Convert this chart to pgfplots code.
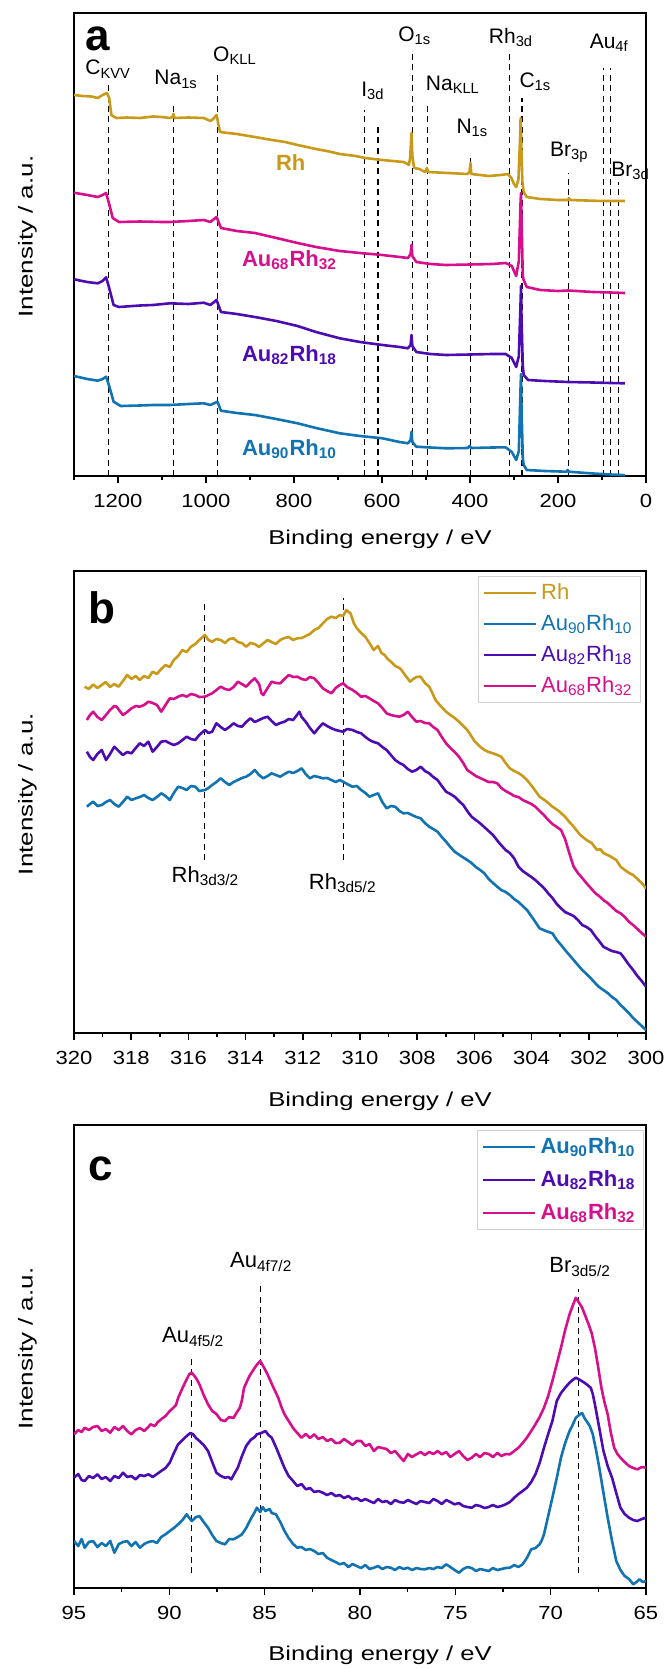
\documentclass[border=0pt]{standalone}
\usepackage{fontspec}
\setmainfont{Liberation Sans}
\usepackage{graphicx}
\usepackage{pgfplots}
\pgfplotsset{compat=1.18}
\definecolor{cgold}{RGB}{201,154,25}
\definecolor{cblue}{RGB}{17,115,178}
\definecolor{cpurp}{RGB}{76,12,178}
\definecolor{cpink}{RGB}{214,16,140}
\newcommand{\sub}[1]{\textsubscript{#1}}
\pgfplotsset{
  panel/.style={
    scale only axis, width=286pt, clip mode=individual,
    x dir=reverse, ymin=0,
    axis line style={line width=0.8pt},
    ytick=\empty, xtick pos=left, tick align=outside,
    major tick length=3.5pt, minor tick length=2pt,
    every tick/.style={black, line width=0.8pt},
    tick label style={font=\fontsize{9.5}{11}\selectfont},
    /pgf/number format/assume math mode=true,
    /pgf/number format/1000 sep={},
    xticklabel={\scalebox{1.16}[1]{\pgfmathprintnumber{\tick}}},
    xticklabel style={yshift=-2pt},
    xlabel={\scalebox{1.28}[1]{Binding energy / eV}},
    ylabel={\scalebox{1.3}[1]{Intensity / a.u.}},
    label style={font=\fontsize{12}{14}\selectfont},
    every axis y label/.style={at={(axis description cs:-0.0813,0.517)}, anchor=center, rotate=90},
    legend cell align=left,
    legend image code/.code={\draw[#1, line width=1.3pt] (0pt,0pt) -- (26pt,0pt);},
  },
  refl/.style={forget plot, black, line width=0.6pt, dash pattern=on 3pt off 2.2pt},
  sp/.style={line width=1.3pt, line join=round},
}
\tikzset{
  ann/.style={anchor=base west, font=\fontsize{10.5}{12}\selectfont, inner sep=0pt},
  lbl/.style={anchor=base west, font=\fontsize{11}{12}\bfseries\selectfont, inner sep=0pt},
  letter/.style={anchor=base west, font=\fontsize{22}{24}\bfseries\selectfont, inner sep=0pt},
}
\begin{document}
\begin{tikzpicture}
\path[use as bounding box] (0,0) rectangle (333pt,-834.5pt);
% ---------------- panel a ----------------
\begin{axis}[panel, at={(37pt,-6.5pt)}, anchor=north west, height=231.5pt,
  xmin=0, xmax=1300, ymax=463,
  xtick={0,200,...,1200}, minor xtick={100,300,...,1300},
  every axis x label/.style={at={(axis description cs:0.535,-0.136)}, anchor=center}]
\addplot[refl] coordinates {(1222,0) (1222,391)};
\addplot[refl] coordinates {(1074,0) (1074,374)};
\addplot[refl] coordinates {(974,0) (974,405)};
\addplot[refl] coordinates {(640,0) (640,366)};
\addplot[refl] coordinates {(609,0) (609,353)};
\addplot[refl] coordinates {(530,0) (530,424)};
\addplot[refl] coordinates {(497,0) (497,372)};
\addplot[refl] coordinates {(398,0) (398,319)};
\addplot[refl] coordinates {(311,0) (311,424)};
\addplot[refl] coordinates {(282,0) (282,378)};
\addplot[refl] coordinates {(177,0) (177,303)};
\addplot[refl] coordinates {(97,0) (97,408)};
\addplot[refl] coordinates {(80,0) (80,408)};
\addplot[refl] coordinates {(63,0) (63,294)};
% Rh
\addplot[sp, cgold] coordinates {
(1300,381) (1280,380) (1260,379.5) (1246,378) (1235,381) (1225,383) (1220,378) (1215,361) (1208,359) (1203,358)
(1180,358.5) (1150,358) (1120,359.5) (1100,359) (1082,358) (1076,359) (1074,362) (1072,358) (1040,358.5) (1005,358)
(995,356) (990,355) (984,357) (976,361) (972,352) (968,344) (950,343) (930,342) (889,339) (850,336)
(820,334) (792,331) (750,327) (720,324.5) (696,322) (660,320) (638,318) (600,316) (551,314) (542,312)
(539,311) (536,318) (533,343) (531,320) (527,308) (515,307) (502,304) (498,308) (495,304) (450,303)
(406,302) (401,304) (399,313) (397,302) (357,300) (330,301) (314,302) (306,298) (300,292) (295,289)
(290,296) (286,340) (285,358) (284,340) (281,295) (278,284) (271,279) (240,277) (200,276) (177,276)
(175,278) (173,276) (100,275) (60,275) (48,275)};
% Au68Rh32
\addplot[sp, cpink] coordinates {
(1300,283.3) (1270,281) (1246,279) (1235,281) (1227,283) (1220,272) (1212,258) (1198,254) (1150,254.5) (1100,254)
(1082,254) (1040,255) (1005,256) (990,254) (976,259) (966,248) (930,245) (889,243) (840,238) (792,233)
(750,229) (696,225) (650,223) (599,221) (560,219) (541,218) (535,222) (533,231) (531,220) (522,214)
(490,212) (454,211) (400,211.5) (350,212) (319,213) (305,210) (295,200) (289,215) (285,275) (284,283)
(283,260) (280,200) (278,196) (271,189) (240,186) (200,185) (177,185.5) (120,184) (80,183.5) (48,183)};
% Au82Rh18
\addplot[sp, cpurp] coordinates {
(1300,196.7) (1270,194) (1246,192.7) (1235,195) (1227,198.7) (1220,188) (1210,171) (1198,169) (1150,170.5) (1120,171)
(1082,172.7) (1040,172) (1005,173.3) (990,171) (976,176) (966,164) (930,162) (889,159) (840,155) (792,150)
(750,144) (696,137.7) (650,134) (599,131) (560,129) (541,127.7) (535,131) (533,141) (531,130) (522,124)
(490,122) (454,121) (400,121.5) (350,122) (319,122) (305,118) (295,109) (289,120) (285,175) (284,190)
(283,160) (280,110) (278,101) (268,96) (230,95) (177,94) (120,93.5) (80,93) (48,92.7)};
% Au90Rh10
\addplot[sp, cblue] coordinates {
(1300,100) (1270,97) (1246,95.3) (1235,97) (1227,99.3) (1220,90) (1210,74.3) (1194,70) (1150,70.5) (1120,71)
(1082,71) (1040,72) (1005,72.7) (990,71) (974,74.3) (966,65.3) (930,63) (889,61) (840,57) (792,52.7)
(750,48) (696,42.7) (650,40) (599,37.7) (560,34) (541,32.7) (535,36) (533,44.3) (531,34) (522,29.3)
(490,28.5) (454,27.7) (405,28) (401,30) (397,28) (350,28.5) (319,28.7) (305,24) (295,16) (289,25)
(285,90) (284,102) (283,70) (280,18) (278,11) (271,6) (230,5) (180,4.3) (178,6) (176,4.3)
(120,2.5) (80,1.5) (48,0.8)};
\node[letter] at (axis description cs:0.0192,0.918) {a};
\node[ann] at (axis cs:1275,401) {C\sub{KVV}};
\node[ann] at (axis cs:1118,391) {Na\sub{1s}};
\node[ann] at (axis cs:984.5,414.3) {O\sub{KLL}};
\node[ann] at (axis cs:648,379.3) {I\sub{3d}};
\node[ann] at (axis cs:563.9,434.3) {O\sub{1s}};
\node[ann] at (axis cs:501.1,385.3) {Na\sub{KLL}};
\node[ann] at (axis cs:431.4,342.7) {N\sub{1s}};
\node[ann] at (axis cs:357.9,432.7) {Rh\sub{3d}};
\node[ann] at (axis cs:288.4,388.7) {C\sub{1s}};
\node[ann] at (axis cs:218.7,320) {Br\sub{3p}};
\node[ann] at (axis cs:128.7,427.7) {Au\sub{4f}};
\node[ann] at (axis cs:79.5,299.3) {Br\sub{3d}};
\node[lbl, text=cgold] at (axis cs:841.6,306) {Rh};
\node[lbl, text=cpink] at (axis cs:918.9,209.3) {Au\sub{68}Rh\sub{32}};
\node[lbl, text=cpurp] at (axis cs:918.9,114.3) {Au\sub{82}Rh\sub{18}};
\node[lbl, text=cblue] at (axis cs:918.9,21) {Au\sub{90}Rh\sub{10}};
\end{axis}
% ---------------- panel b ----------------
\begin{axis}[panel, at={(37pt,-285.5pt)}, anchor=north west, height=231pt,
  xmin=300, xmax=320, ymax=462,
  xtick={300,302,...,320}, minor xtick={301,303,...,319},
  every axis x label/.style={at={(axis description cs:0.535,-0.147)}, anchor=center},
  legend style={at={(axis description cs:1,1)}, anchor=north east, xshift=-2.5pt, yshift=-2.5pt,
    draw=black!18, line width=0.5pt, font=\fontsize{11}{12}\selectfont, row sep=2pt,
    inner xsep=2pt, inner ysep=1.5pt}]
\addplot[refl] coordinates {(315.43,173) (315.43,433)};
\addplot[refl] coordinates {(310.59,173) (310.59,434.7)};
\addplot[sp, cgold] coordinates {
(319.63,346.3) (319.48,344) (319.33,348.5) (319.18,345) (319.03,348) (318.89,351) (318.74,346) (318.59,349) (318.44,346.3) (318.29,352)
(318.14,358) (317.99,354) (317.84,357) (317.70,353) (317.55,357) (317.40,355) (317.25,361.3) (317.10,359) (316.95,364) (316.80,368)
(316.65,366) (316.51,373) (316.36,377) (316.21,383) (316.06,381) (315.91,386.3) (315.76,389) (315.62,393) (315.42,398) (315.30,393)
(315.17,391.3) (315.02,394) (314.87,393) (314.72,390) (314.57,394) (314.42,394.7) (314.27,391) (314.13,390) (313.98,386.3) (313.83,390)
(313.68,389) (313.53,386) (313.38,389.7) (313.23,393) (313.09,391) (312.94,389) (312.79,393) (312.64,395) (312.49,396) (312.34,393)
(312.19,394.7) (312.04,395) (311.90,397) (311.75,399) (311.60,403) (311.45,405) (311.30,409.7) (311.15,414) (311.00,416.3) (310.85,415)
(310.71,418) (310.59,417) (310.48,423) (310.40,421) (310.33,419.7) (310.22,410) (310.11,404.7) (309.96,400) (309.81,396) (309.67,390)
(309.52,383) (309.37,387) (309.25,380) (309.14,378) (309.03,374) (308.92,371.3) (308.77,367) (308.62,365) (308.55,363) (308.40,357)
(308.25,351.3) (308.14,354) (308.03,356) (307.88,356.3) (307.73,350) (307.58,346.3) (307.47,340) (307.36,333) (307.18,327) (306.99,321.3)
(306.84,318) (306.69,315) (306.54,311.3) (306.39,307) (306.25,303) (306.17,299.7) (306.00,292) (305.80,286.3) (305.65,283) (305.50,281)
(305.35,279.7) (305.20,278) (305.06,276.3) (304.91,270) (304.76,264.7) (304.61,262) (304.46,260) (304.31,257) (304.16,253) (303.94,245)
(303.72,236.3) (303.50,232) (303.27,226.3) (303.05,222) (302.83,216.3) (302.68,211) (302.53,206.3) (302.30,198) (302.08,193) (301.90,190)
(301.71,183) (301.60,184) (301.49,180) (301.27,177) (301.04,173) (300.89,166.3) (300.74,163) (300.59,160) (300.45,158) (300.30,154)
(300.15,150) (300.00,144.7)};
\addlegendentry{\textcolor{cgold}{Rh}}
\addplot[sp, cblue] coordinates {
(319.55,226.3) (319.44,229) (319.33,231.3) (319.18,227) (319.03,228) (318.88,231) (318.74,233) (318.59,229) (318.44,226.3) (318.29,231)
(318.14,236.3) (317.99,233) (317.84,234.7) (317.70,236) (317.55,238) (317.40,235) (317.25,233) (317.10,236) (316.95,239.7) (316.80,237)
(316.65,233) (316.51,240) (316.36,246.3) (316.21,245) (316.06,243) (315.91,247) (315.76,246.3) (315.62,242) (315.42,243) (315.30,245)
(315.17,248) (315.02,251) (314.87,254.7) (314.72,251) (314.57,248) (314.42,251) (314.27,253) (314.13,255) (313.98,256.3) (313.83,259)
(313.68,263) (313.53,258) (313.38,254.7) (313.23,257) (313.09,259.7) (312.94,258) (312.79,256.3) (312.64,259) (312.49,261.3) (312.34,260)
(312.19,262) (312.04,264.7) (311.90,259) (311.75,254.7) (311.60,257) (311.45,256) (311.30,254.7) (311.15,255) (311.00,253) (310.85,251)
(310.71,253) (310.59,251.3) (310.45,249) (310.26,246.3) (310.11,247) (309.96,243) (309.81,240) (309.67,236.3) (309.52,238) (309.37,239.7)
(309.22,231) (309.07,224.7) (308.92,227) (308.77,226.3) (308.62,222) (308.48,219.7) (308.33,220) (308.18,218) (308.03,216) (307.88,214.7)
(307.73,210) (307.58,206.3) (307.44,204) (307.29,201.3) (307.14,196) (306.99,191.3) (306.84,186) (306.69,181.3) (306.47,177) (306.25,173)
(306.10,170) (305.95,166) (305.80,163) (305.65,159.7) (305.50,154) (305.35,150) (305.20,146.3) (305.06,143) (304.91,141) (304.76,138)
(304.61,134) (304.46,131) (304.31,127) (304.16,123) (303.94,114) (303.72,104.7) (303.50,102) (303.27,99.7) (303.12,93) (302.97,88)
(302.83,83) (302.68,78) (302.53,73) (302.38,68) (302.23,63) (302.08,59) (301.93,54.7) (301.78,50) (301.64,46) (301.49,43)
(301.34,40) (301.19,36) (301.04,33) (300.89,28) (300.74,24) (300.59,19.7) (300.45,15) (300.30,11) (300.15,7) (300.00,3)};
\addlegendentry{\textcolor{cblue}{Au\sub{90}Rh\sub{10}}}
\addplot[sp, cpurp] coordinates {
(319.55,281.3) (319.44,276) (319.33,273) (319.18,279) (319.03,283) (318.88,273) (318.74,279) (318.59,286.3) (318.44,282) (318.29,278)
(318.14,281) (317.99,279.7) (317.84,285) (317.70,289.7) (317.55,287) (317.40,291.3) (317.25,281.3) (317.10,286) (316.95,291.3) (316.80,292)
(316.65,289.7) (316.51,288) (316.36,289.7) (316.21,293) (316.06,296.3) (315.91,294) (315.76,293) (315.62,298) (315.42,303) (315.30,300)
(315.17,301.3) (315.02,309.7) (314.87,306) (314.72,303) (314.57,306) (314.42,309.7) (314.27,307) (314.13,306.3) (313.98,311) (313.83,314.7)
(313.68,311) (313.53,313) (313.38,315) (313.23,316.3) (313.09,312) (312.94,308) (312.79,310) (312.64,311.3) (312.49,314) (312.34,313)
(312.23,317) (312.12,321.3) (312.04,316) (311.90,311.3) (311.75,305) (311.60,299.7) (311.45,305) (311.30,309.7) (311.15,307) (311.00,304.7)
(310.85,303) (310.71,302) (310.59,301.3) (310.45,304) (310.26,303) (310.11,301) (309.96,299.7) (309.81,296) (309.67,293) (309.52,291)
(309.37,289.7) (309.22,286) (309.07,283) (308.92,278) (308.77,273) (308.62,270) (308.48,268) (308.33,264) (308.18,261.3) (308.03,263)
(307.88,266.3) (307.73,262) (307.58,259.7) (307.44,256) (307.29,253) (307.14,247) (306.99,241.3) (306.84,239) (306.69,236.3) (306.54,232)
(306.39,228) (306.25,222) (306.10,216.3) (305.95,213) (305.80,209.7) (305.58,204) (305.35,198) (305.13,190) (304.91,183) (304.76,180)
(304.61,174.7) (304.46,166.3) (304.31,162) (304.16,159) (304.01,156) (303.87,153) (303.72,149) (303.57,145) (303.42,139.7) (303.27,135)
(303.12,129) (302.97,124.7) (302.83,121) (302.68,119) (302.53,117) (302.38,113) (302.23,108) (302.08,106) (301.93,103) (301.78,97)
(301.64,92) (301.49,86.3) (301.34,84) (301.19,82) (301.04,81) (300.89,79.7) (300.74,74) (300.59,68) (300.45,63) (300.30,57)
(300.15,52) (300.00,46.3)};
\addlegendentry{\textcolor{cpurp}{Au\sub{82}Rh\sub{18}}}
\addplot[sp, cpink] coordinates {
(319.55,313) (319.44,318) (319.33,321.3) (319.18,316) (319.03,313) (318.88,318) (318.74,323) (318.59,327) (318.51,326.3) (318.40,322)
(318.29,318) (318.14,321) (317.99,324.7) (317.84,327) (317.70,326.3) (317.55,328) (317.40,331.3) (317.25,330) (317.10,328) (316.95,321.3)
(316.80,328) (316.65,334.7) (316.51,334) (316.36,336.3) (316.21,338) (316.06,336.3) (315.91,339) (315.76,338) (315.62,336) (315.42,336.3)
(315.30,338) (315.17,339.7) (315.02,343) (314.87,346.3) (314.72,344) (314.57,343) (314.42,346) (314.27,351.3) (314.13,349) (313.98,346.3)
(313.83,351) (313.68,354.7) (313.53,349) (313.45,340) (313.38,338) (313.23,345) (313.09,351.3) (312.94,350) (312.79,349.7) (312.64,354)
(312.49,358) (312.34,356) (312.19,356.3) (312.04,354) (311.90,353) (311.75,356) (311.60,354.7) (311.45,350) (311.30,344.7) (311.15,342)
(311.00,339.7) (310.85,345) (310.71,348) (310.59,349.7) (310.45,346) (310.26,343) (310.11,340) (309.96,336.3) (309.81,337) (309.67,334.7)
(309.52,332) (309.37,329.7) (309.22,325) (309.07,319.7) (308.92,318) (308.77,317) (308.62,316.3) (308.48,318) (308.33,321.3) (308.18,316)
(308.03,311.3) (307.88,312) (307.73,310) (307.58,309.7) (307.44,306) (307.29,303) (307.14,296) (306.99,289.7) (306.84,285) (306.69,281)
(306.54,276.3) (306.39,270) (306.25,263) (306.10,260) (305.95,257) (305.80,255) (305.65,253) (305.50,251) (305.35,251) (305.20,249.7)
(305.06,245) (304.91,242) (304.76,239.7) (304.61,237) (304.46,236) (304.31,233) (304.16,231) (304.01,229) (303.87,226.3) (303.72,222)
(303.57,218) (303.42,213) (303.27,209) (303.12,206) (302.97,203) (302.83,194) (302.68,179.7) (302.53,166.3) (302.38,160) (302.23,155)
(302.08,149.7) (301.93,145) (301.78,140) (301.64,137) (301.49,133) (301.34,130) (301.19,126) (301.04,122) (300.89,119.7) (300.74,116)
(300.59,111) (300.45,108) (300.30,104) (300.15,100) (300.00,96.3)};
\addlegendentry{\textcolor{cpink}{Au\sub{68}Rh\sub{32}}}
\node[letter] at (axis description cs:0.0245,0.8874) {b};
\node[ann, font=\fontsize{11}{12}\selectfont] at (axis cs:316.60,150.7) {Rh\sub{3d3/2}};
\node[ann, font=\fontsize{11}{12}\selectfont] at (axis cs:311.80,144) {Rh\sub{3d5/2}};
\end{axis}
% ---------------- panel c ----------------
\begin{axis}[panel, at={(37pt,-562.5pt)}, anchor=north west, height=231.5pt,
  xmin=65, xmax=95, ymax=463,
  xtick={65,70,...,95}, minor xtick={67.5,72.5,...,92.5},
  every axis x label/.style={at={(axis description cs:0.535,-0.145)}, anchor=center},
  legend style={at={(axis description cs:1,1)}, anchor=north east, xshift=-1pt, yshift=-2.5pt,
    draw=black!18, line width=0.5pt, font=\fontsize{11}{12}\bfseries\selectfont, row sep=3pt,
    inner xsep=2pt, inner ysep=1.5pt}]
\addplot[refl] coordinates {(88.82,15) (88.82,229)};
\addplot[refl] coordinates {(85.23,15) (85.23,304)};
\addplot[refl] coordinates {(68.52,15) (68.52,299)};
\addplot[sp, cblue] coordinates {
(95.00,47) (94.78,42) (94.60,49) (94.44,40.3) (94.22,46) (94.00,47) (93.77,41) (93.55,45) (93.33,42) (93.10,47)
(92.88,35.3) (92.65,44) (92.43,46) (92.21,47) (91.99,42) (91.77,46) (91.54,40.3) (91.32,44) (91.10,46) (90.87,47)
(90.65,45) (90.43,51) (90.20,53.7) (89.98,57) (89.76,60) (89.54,63.7) (89.31,68) (89.09,73.7) (88.95,70) (88.82,67)
(88.60,71) (88.42,72) (88.20,66) (87.97,60.3) (87.75,53) (87.53,47) (87.30,45) (87.08,43.7) (86.86,49) (86.64,48.7)
(86.41,51) (86.19,53.7) (85.97,60) (85.74,68.7) (85.52,76) (85.41,80.3) (85.23,76) (85.10,81) (84.96,77) (84.74,79)
(84.63,75) (84.41,73.7) (84.18,66) (83.96,57) (83.74,50) (83.51,44) (83.29,40.3) (83.07,41) (82.84,38) (82.62,39)
(82.40,37) (82.18,34) (81.95,35) (81.73,30.3) (81.50,28) (81.28,26) (81.06,23.7) (80.84,25) (80.61,21) (80.39,24)
(80.17,22) (79.94,20) (79.72,23) (79.50,19) (79.27,20.3) (79.05,22) (78.83,19) (78.61,21) (78.38,20.3) (78.16,18)
(77.94,21) (77.71,19) (77.49,20.3) (77.27,18) (77.04,20) (76.82,19) (76.60,18.7) (76.37,20) (76.15,19) (75.93,21)
(75.71,20) (75.48,23.7) (75.26,21) (75.04,18) (74.81,15.3) (74.59,19) (74.37,21) (74.14,20) (73.92,17) (73.70,19)
(73.47,18) (73.25,17) (73.03,20) (72.80,18) (72.58,19) (72.36,20) (72.14,20.3) (71.91,23) (71.69,21) (71.47,23.7)
(71.25,30) (71.02,38.7) (70.80,40) (70.58,43.7) (70.46,48) (70.35,53.7) (70.13,72) (69.91,90.3) (69.68,110) (69.46,130.3)
(69.24,145) (69.01,157) (68.85,163) (68.68,170.3) (68.57,172) (68.46,173.7) (68.35,175) (68.23,170) (68.12,167) (67.95,162)
(67.79,153.7) (67.62,138) (67.45,120.3) (67.23,95) (67.01,70.3) (66.78,47) (66.56,27) (66.34,18) (66.12,12) (65.89,9)
(65.67,3.7) (65.50,6) (65.34,8.7) (65.17,6) (65.00,7)};
\addlegendentry{\textcolor{cblue}{Au\sub{90}Rh\sub{10}}}
\addplot[sp, cpurp] coordinates {
(95.00,110.3) (94.78,114) (94.60,108) (94.44,107) (94.22,112) (94.00,110) (93.77,113.7) (93.55,109) (93.33,111) (93.10,107)
(92.88,112) (92.65,110) (92.43,115.3) (92.21,111) (91.99,112) (91.77,108.7) (91.54,113) (91.32,112) (91.10,113.7) (90.87,111)
(90.65,114) (90.43,117) (90.20,120) (89.98,125.3) (89.76,135) (89.54,143.7) (89.31,148) (89.09,152) (88.90,155) (88.75,153.7)
(88.60,150) (88.42,147) (88.20,143) (87.97,137) (87.75,126) (87.53,115.3) (87.30,112) (87.08,110.3) (86.90,111) (86.75,108.7)
(86.60,114) (86.41,120.3) (86.19,132) (85.97,142) (85.74,148) (85.52,151) (85.41,153.7) (85.18,155) (84.96,157) (84.80,153)
(84.63,150.3) (84.41,141) (84.18,130.3) (83.96,120) (83.74,112) (83.51,107) (83.29,102) (83.07,104) (82.84,98.7) (82.62,100)
(82.40,96) (82.18,97) (81.95,95.3) (81.73,93) (81.50,95) (81.28,92) (81.06,93) (80.84,90) (80.61,92) (80.39,88.7)
(80.17,90) (79.94,87) (79.72,89) (79.50,87) (79.27,85) (79.05,89) (78.83,86) (78.61,87) (78.38,84) (78.16,88)
(77.94,86) (77.71,85.3) (77.49,88) (77.27,86) (77.04,84) (76.82,87) (76.60,86) (76.37,85) (76.15,89) (75.93,87)
(75.71,84) (75.48,88) (75.26,86) (75.04,83.7) (74.81,85) (74.59,82) (74.37,81) (74.14,80.3) (73.92,83) (73.70,82)
(73.47,80) (73.25,81) (73.03,83) (72.80,81) (72.58,82) (72.36,83.7) (72.14,86) (71.91,90.3) (71.69,94) (71.47,97)
(71.25,100.3) (71.02,106) (70.80,113.7) (70.58,125) (70.35,140.3) (70.13,154) (69.91,167) (69.68,187) (69.46,195) (69.24,200.3)
(69.01,205.3) (68.85,208) (68.68,210.3) (68.46,208) (68.23,205.3) (68.07,203) (67.90,200.3) (67.79,194) (67.68,183.7) (67.45,160)
(67.23,137) (67.01,122) (66.78,110.3) (66.56,95) (66.34,80.3) (66.12,74) (65.89,70.3) (65.67,68) (65.45,67) (65.22,69)
(65.00,70.3)};
\addlegendentry{\textcolor{cpurp}{Au\sub{82}Rh\sub{18}}}
\addplot[sp, cpink] coordinates {
(95.00,153.7) (94.78,158) (94.60,156) (94.44,160.3) (94.22,158) (94.00,161) (93.77,162) (93.55,157) (93.33,159) (93.10,155.3)
(92.88,161) (92.65,158) (92.43,162) (92.21,157) (91.99,153.7) (91.77,158) (91.54,160) (91.32,157) (91.10,161) (90.99,163.7)
(90.76,162) (90.60,166) (90.43,168.7) (90.20,172) (89.98,177) (89.80,180) (89.65,183) (89.54,190) (89.31,200) (89.09,208.7)
(88.95,214) (88.82,215.3) (88.60,210) (88.42,203.7) (88.20,193) (87.97,183.7) (87.75,177) (87.53,174) (87.30,168) (87.08,167)
(86.86,171) (86.64,170) (86.45,176) (86.30,180.3) (86.19,188) (86.08,200.3) (85.80,212) (85.52,220.3) (85.38,224) (85.23,227)
(85.05,221) (84.85,213.7) (84.60,203) (84.29,190.3) (84.10,180) (83.96,173.7) (83.74,167) (83.51,160) (83.29,155) (83.07,150.3)
(82.84,154) (82.62,150) (82.40,153.7) (82.18,149) (81.95,151) (81.73,147) (81.50,149) (81.28,145) (81.06,145.3) (80.84,149)
(80.61,146) (80.39,143) (80.17,147) (79.94,147) (79.72,142) (79.50,144) (79.27,137) (79.05,141) (78.83,140) (78.61,139)
(78.38,135) (78.16,137) (77.94,132) (77.71,127) (77.49,134) (77.27,131) (77.04,133.7) (76.82,136) (76.60,133) (76.37,136)
(76.15,134) (75.93,137) (75.71,133.7) (75.48,136) (75.26,131) (75.04,134) (74.81,137) (74.59,132) (74.37,128) (74.14,130.3)
(73.92,134) (73.70,131) (73.47,135) (73.25,134) (73.03,131) (72.80,135) (72.58,132) (72.36,134) (72.14,133.7) (71.91,137)
(71.69,140.3) (71.47,145) (71.25,150.3) (71.02,157) (70.80,163.7) (70.58,171) (70.35,180.3) (70.13,192) (69.91,207) (69.68,224)
(69.46,240.3) (69.24,258) (69.01,273.7) (68.85,282) (68.68,290.3) (68.50,285) (68.35,280.3) (68.18,272) (68.01,263.7) (67.85,255)
(67.68,240.3) (67.50,220) (67.34,200.3) (67.18,186) (67.01,173.7) (66.85,156) (66.67,140.3) (66.50,134) (66.34,130.3) (66.12,126)
(65.89,122) (65.67,120) (65.45,118.7) (65.22,121) (65.00,120.3)};
\addlegendentry{\textcolor{cpink}{Au\sub{68}Rh\sub{32}}}
\node[letter] at (axis description cs:0.0245,0.881) {c};
\node[ann, font=\fontsize{11}{12}\selectfont] at (axis cs:90.40,245.3) {Au\sub{4f5/2}};
\node[ann, font=\fontsize{11}{12}\selectfont] at (axis cs:86.83,320.3) {Au\sub{4f7/2}};
\node[ann, font=\fontsize{11}{12}\selectfont] at (axis cs:70.09,315.3) {Br\sub{3d5/2}};
\end{axis}
\end{tikzpicture}
\end{document}
